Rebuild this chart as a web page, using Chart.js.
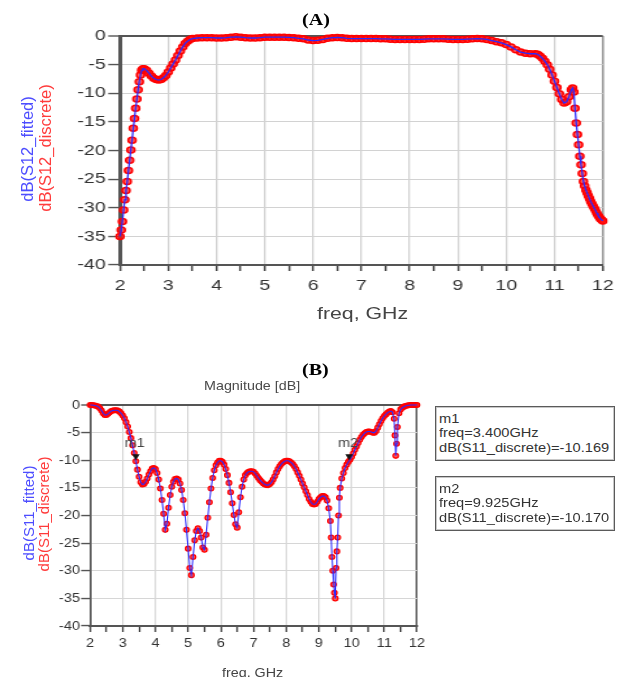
<!DOCTYPE html>
<html><head><meta charset="utf-8">
<script src="https://cdn.jsdelivr.net/npm/chart.js@4.4.1/dist/chart.umd.min.js"></script>
<style>
html,body{margin:0;padding:0;background:#fff;width:621px;height:677px;overflow:hidden;position:relative;font-family:"Liberation Sans",Arial,sans-serif;}
.wrap{position:absolute;left:0;transform-origin:0 0;}
.t{position:absolute;white-space:nowrap;line-height:1;transform-origin:0 0;}
.rot{position:absolute;white-space:nowrap;line-height:1;transform:translate(-50%,-50%) rotate(-90deg);}
.box{position:absolute;border:1.5px solid #5a5a5a;box-shadow:inset 0 0 0 1px #c8c8c8;background:#fff;}
</style></head><body>

<div class="wrap" style="top:0;width:478px;height:330px;transform:scaleX(1.3)"><canvas id="ca"></canvas></div>
<div class="wrap" style="top:330px;width:555px;height:347px;transform:scaleX(1.12)"><canvas id="cb"></canvas></div>

<div class="t" style="left:302px;top:11px;font-family:'Liberation Serif','Times New Roman',serif;font-weight:bold;font-size:17px;transform:scaleX(1.18)">(A)</div>
<div class="t" style="left:302px;top:361px;font-family:'Liberation Serif','Times New Roman',serif;font-weight:bold;font-size:17px;transform:scaleX(1.18)">(B)</div>
<div class="t" style="left:204px;top:379px;font-size:13.5px;color:#4a4a4a;transform:scaleX(1.06)">Magnitude [dB]</div>
<div class="t" style="left:317px;top:305.5px;font-size:16px;color:#444;transform:scaleX(1.33)">freq, GHz</div>
<div class="t" style="left:222px;top:665.5px;font-size:13.5px;color:#444;transform:scaleX(1.06)">freq, GHz</div>

<div class="rot" style="left:26.5px;top:149px;font-size:16.5px;color:#4d4dff">dB(S12_fitted)</div>
<div class="rot" style="left:44.5px;top:148px;font-size:16.5px;color:#ff3b3b">dB(S12_discrete)</div>
<div class="rot" style="left:27.5px;top:513px;font-size:15px;color:#4d4dff">dB(S11_fitted)</div>
<div class="rot" style="left:42.5px;top:514px;font-size:15px;color:#ff3b3b">dB(S11_discrete)</div>

<div id="legendBoxes"></div>

<script>
// ---------- Chart (A): S12 ----------
const freqA = [
  2.000,2.025,2.050,2.075,2.100,2.125,2.150,2.175,2.200,2.225,2.250,2.275,2.300,2.325,2.350,2.375,2.400,2.425,2.450,2.475,2.500,
  2.55,2.60,2.65,2.70,2.75,2.80,2.85,2.90,2.95,3.00,3.05,3.10,3.15,3.20,3.25,3.30,3.35,3.40,3.45,3.50,
  3.6,3.7,3.8,3.9,4.0,4.1,4.2,4.3,4.4,4.5,
  4.6,4.7,4.8,4.9,5.0,5.1,5.2,5.3,5.4,5.5,
  5.6,5.7,5.8,5.9,6.0,6.1,6.2,6.3,6.4,6.5,
  6.6,6.7,6.8,6.9,7.0,7.1,7.2,7.3,7.4,7.5,
  7.6,7.7,7.8,7.9,8.0,8.1,8.2,8.3,8.4,8.5,
  8.6,8.7,8.8,8.9,9.0,9.1,9.2,9.3,9.4,9.5,
  9.6,9.7,9.8,9.9,10.0,
  10.1,10.2,10.3,10.4,10.5,10.6,
  10.65,10.70,10.75,10.80,10.85,10.90,10.95,11.00,11.05,11.10,11.15,11.20,11.25,11.30,11.35,
  11.375,11.400,11.425,11.450,11.475,11.500,11.525,11.550,11.575,11.600,11.625,11.650,11.675,
  11.700,11.725,11.750,11.775,11.800,11.825,11.850,11.875,11.900,11.925,11.950,11.975,12.000
];
const s12Discrete = [
  -35.0,-33.9,-32.4,-30.4,-28.6,-27.0,-25.4,-23.5,-21.7,-19.9,-18.2,-16.1,-14.4,-12.6,-11.0,-9.4,-8.0,-6.8,-6.0,-5.7,-5.7,
  -6.0,-6.5,-7.0,-7.4,-7.6,-7.7,-7.6,-7.3,-6.9,-6.3,-5.6,-4.9,-4.2,-3.4,-2.6,-1.9,-1.3,-0.9,-0.6,-0.45,
  -0.35,-0.3,-0.3,-0.3,-0.35,-0.35,-0.3,-0.2,-0.15,-0.2,
  -0.3,-0.35,-0.35,-0.3,-0.2,-0.2,-0.2,-0.2,-0.2,-0.25,
  -0.3,-0.4,-0.5,-0.7,-0.8,-0.75,-0.6,-0.4,-0.3,-0.25,
  -0.3,-0.4,-0.45,-0.45,-0.45,-0.45,-0.45,-0.45,-0.5,-0.5,
  -0.55,-0.6,-0.6,-0.6,-0.6,-0.6,-0.6,-0.55,-0.5,-0.5,
  -0.5,-0.5,-0.55,-0.6,-0.6,-0.6,-0.55,-0.5,-0.45,-0.5,
  -0.6,-0.8,-1.0,-1.2,-1.5,
  -1.9,-2.4,-2.8,-3.0,-3.1,-3.1,
  -3.2,-3.5,-3.9,-4.4,-5.0,-5.8,-6.8,-7.9,-9.0,-10.1,-11.1,-11.7,-11.5,-10.6,-9.4,
  -9.1,-9.8,-12.6,-15.2,-17.2,-19.0,-21.0,-22.5,-24.0,-25.4,-26.2,-26.9,-27.4,
  -27.9,-28.4,-28.9,-29.3,-29.7,-30.1,-30.5,-30.9,-31.3,-31.6,-31.9,-32.1,-32.3
];
// fitted model follows the discrete samples
const s12Fitted = s12Discrete;

// ---------- Chart (B): S11 ----------
const freqB = [
  2.00,2.05,2.10,2.15,2.20,2.25,2.30,2.35,2.40,2.45,
  2.50,2.55,2.60,2.65,2.70,2.75,2.80,2.85,2.90,2.95,
  3.00,3.05,3.10,3.15,3.20,3.25,3.30,3.35,3.40,3.45,
  3.50,3.55,3.60,3.65,3.70,3.75,3.80,3.85,3.90,3.95,
  4.00,4.05,4.10,4.15,4.20,4.25,4.30,4.35,4.40,4.45,
  4.50,4.55,4.60,4.65,4.70,4.75,4.80,4.85,4.90,4.95,
  5.00,5.05,5.10,5.15,5.20,5.25,5.30,5.35,5.40,5.45,
  5.50,5.55,5.60,5.65,5.70,5.75,5.80,5.85,5.90,5.95,
  6.00,6.05,6.10,6.15,6.20,6.25,6.30,6.35,6.40,6.45,
  6.50,6.55,6.60,6.65,6.70,6.75,6.80,6.85,6.90,6.95,
  7.00,7.05,7.10,7.15,7.20,7.25,7.30,7.35,7.40,7.45,
  7.50,7.55,7.60,7.65,7.70,7.75,7.80,7.85,7.90,7.95,
  8.00,8.05,8.10,8.15,8.20,8.25,8.30,8.35,8.40,8.45,
  8.50,8.55,8.60,8.65,8.70,8.75,8.80,8.85,8.90,8.95,
  9.00,9.05,9.10,9.15,9.20,9.25,9.30,9.35,
  9.375,9.400,9.425,9.450,9.475,9.500,9.525,9.550,9.575,9.600,9.625,
  9.65,9.70,9.75,9.80,9.85,9.90,9.95,
  10.00,10.05,10.10,10.15,10.20,10.25,10.30,10.35,10.40,10.45,
  10.50,10.55,10.60,10.65,10.70,10.75,10.80,10.85,10.90,10.95,
  11.00,11.05,11.10,11.15,11.20,11.25,11.30,11.325,11.35,11.375,11.40,11.45,
  11.50,11.55,11.60,11.65,11.70,11.75,11.80,11.85,11.90,11.95,12.00
];
const s11Discrete = [
  0.0,0.0,-0.05,-0.1,-0.2,-0.3,-0.6,-1.0,-1.5,-1.8,
  -1.8,-1.6,-1.3,-1.1,-1.0,-0.95,-0.95,-1.0,-1.2,-1.5,
  -1.9,-2.4,-3.1,-3.9,-4.9,-6.0,-7.3,-8.7,-10.17,-11.7,
  -13.0,-14.0,-14.4,-14.3,-13.9,-13.3,-12.6,-12.0,-11.5,-11.4,
  -11.6,-12.3,-13.5,-15.1,-17.2,-19.7,-22.6,-21.5,-18.6,-16.3,
  -14.8,-13.9,-13.4,-13.3,-13.5,-14.2,-15.4,-17.2,-19.6,-22.6,
  -26.0,-29.5,-30.8,-27.5,-24.5,-22.8,-22.3,-22.8,-24.0,-25.8,
  -26.2,-23.5,-20.4,-17.6,-15.1,-13.2,-11.8,-10.9,-10.4,-10.1,
  -10.1,-10.3,-10.8,-11.6,-12.7,-14.1,-15.8,-17.8,-19.9,-21.6,
  -22.2,-19.4,-16.7,-14.8,-13.5,-12.7,-12.3,-12.1,-12.0,-12.0,
  -12.1,-12.4,-12.8,-13.2,-13.6,-13.9,-14.2,-14.4,-14.5,-14.5,
  -14.3,-14.0,-13.5,-12.9,-12.2,-11.6,-11.1,-10.7,-10.4,-10.2,
  -10.1,-10.1,-10.2,-10.4,-10.7,-11.1,-11.6,-12.2,-12.8,-13.5,
  -14.2,-14.9,-15.6,-16.3,-17.0,-17.5,-17.9,-18.0,-17.9,-17.5,
  -17.0,-16.7,-16.5,-16.5,-16.7,-17.3,-18.7,-21.0,
  -24.0,-27.5,-30.0,-32.5,-34.0,-35.0,-29.5,-26.5,-24.0,-20.0,-16.8,
  -15.0,-13.3,-12.3,-11.4,-10.8,-10.3,-9.9,
  -9.4,-8.8,-8.1,-7.5,-6.9,-6.3,-5.8,-5.4,-5.1,-4.9,
  -4.8,-4.8,-4.9,-5.0,-5.0,-4.7,-4.1,-3.5,-2.9,-2.4,
  -2.0,-1.7,-1.4,-1.2,-1.1,-1.3,-2.5,-5.5,-9.2,-7.0,-4.0,-1.5,
  -0.8,-0.5,-0.3,-0.2,-0.1,-0.05,0.0,0.0,0.0,0.0,0.0
];
const s11Fitted = s11Discrete;

// markers on chart (B)
const markerNames  = ['m1', 'm2'];
const markerFreqs  = [3.400, 9.925];
const markerValues = [-10.169, -10.170];

// axis ticks
const xMin = 2, xMax = 12, xStep = 0.5;
const yMin = -40, yMax = 0, yStep = 5;

const FONT = '"Liberation Sans", Arial, sans-serif';
function pts(xs, ys){ return xs.map((x,i)=>({x:x, y:ys[i]})); }

const markerPlugin = {
  id: 'markerPlugin',
  afterDatasetsDraw(chart, args, opts) {
    if (!opts || !opts.show) return;
    const ctx = chart.ctx, xs = chart.scales.x, ys = chart.scales.y;
    markerNames.forEach((name, i) => {
      const px = xs.getPixelForValue(markerFreqs[i]);
      const py = ys.getPixelForValue(markerValues[i]);
      ctx.save();
      ctx.fillStyle = '#111';
      ctx.beginPath();
      ctx.moveTo(px, py - 1);
      ctx.lineTo(px - 3.4, py - 7);
      ctx.lineTo(px + 3.4, py - 7);
      ctx.closePath();
      ctx.fill();
      ctx.font = '13px ' + FONT;
      ctx.fillStyle = '#444';
      ctx.textAlign = 'center';
      ctx.textBaseline = 'alphabetic';
      ctx.fillText(name, px - 1, py - 14);
      ctx.restore();
    });
  }
};

function makeChart(id, cfg) {
  const isInt = v => Math.abs(v - Math.round(v)) < 1e-6;
  return new Chart(document.getElementById(id), {
    type: 'scatter',
    data: { datasets: [
      { label: cfg.fitLabel, data: pts(cfg.fx, cfg.fy), showLine: true, borderColor: '#2a2aff',
        borderWidth: cfg.lineW, pointRadius: 0, pointHoverRadius: 0, clip: 4 },
      { label: cfg.discLabel, data: pts(cfg.fx, cfg.dy), showLine: false, pointStyle: 'circle',
        pointRadius: cfg.ptR, pointBorderWidth: cfg.ptBW, borderColor: '#ff0000',
        backgroundColor: 'rgba(255,20,20,0.7)', clip: 4 }
    ]},
    plugins: [markerPlugin],
    options: {
      responsive: true, maintainAspectRatio: false, animation: false, devicePixelRatio: 1, events: [],
      layout: { padding: cfg.pad },
      plugins: { legend: { display: false }, tooltip: { enabled: false }, markerPlugin: { show: cfg.markers } },
      scales: {
        x: {
          type: 'linear', min: xMin, max: xMax,
          ticks: { stepSize: xStep, autoSkip: false, maxRotation: 0, minRotation: 0, padding: cfg.xPad,
                   color: '#333', font: { family: FONT, size: cfg.fs },
                   callback: v => isInt(v) ? String(Math.round(v)) : '' },
          grid: { color: c => (c.tick && isInt(c.tick.value)) ? (Math.abs(c.tick.value - xMax) < 1e-6 ? cfg.rightC : cfg.gridC) : 'rgba(0,0,0,0)',
                  lineWidth: c => (c.tick && Math.abs(c.tick.value - xMax) < 1e-6) ? 1.6 : 1.3,
                  tickLength: 6, tickColor: '#444', tickWidth: 1.5 },
          border: { color: '#555', width: 2 },
          afterFit: s => { s.height = cfg.xH; }
        },
        y: {
          type: 'linear', min: yMin, max: yMax,
          ticks: { stepSize: yStep, padding: cfg.yPad, color: '#333', font: { family: FONT, size: cfg.fs } },
          grid: { color: c => (c.tick && c.tick.value === yMax) ? '#555' : cfg.gridC,
                  lineWidth: c => (c.tick && c.tick.value === yMax) ? 2 : 1.1,
                  tickLength: cfg.yTick, tickColor: '#555', tickWidth: 1.4 },
          border: { color: '#555', width: cfg.yBorder },
          afterFit: s => { s.width = cfg.yW; }
        }
      }
    }
  });
}

makeChart('ca', {
  fx: freqA, fy: s12Fitted, dy: s12Discrete, fitLabel: 'dB(S12_fitted)', discLabel: 'dB(S12_discrete)',
  pad: { top: 36, right: 12.6, left: 0, bottom: 0 }, xH: 65, yW: 92.3,
  fs: 15, xPad: 6, yPad: 2, yTick: 9, yBorder: 3, gridC: '#d2d2d2', rightC: '#9a9a9a',
  lineW: 1.3, ptR: 3.0, ptBW: 1.5, markers: false
});
makeChart('cb', {
  fx: freqB, fy: s11Fitted, dy: s11Discrete, fitLabel: 'dB(S11_fitted)', discLabel: 'dB(S11_discrete)',
  pad: { top: 75, right: 182.7, left: 0, bottom: 0 }, xH: 51, yW: 80.4,
  fs: 13, xPad: 4, yPad: 1, yTick: 8, yBorder: 1.8, gridC: '#d6d6d6', rightC: '#555',
  lineW: 1.1, ptR: 2.4, ptBW: 1.3, markers: true
});

// marker readout boxes
const boxTops = [406, 476];
const lb = document.getElementById('legendBoxes');
markerNames.forEach((name, i) => {
  const b = document.createElement('div');
  b.className = 'box';
  b.style.cssText = `left:435px;top:${boxTops[i]}px;width:178px;height:53px;`;
  lb.appendChild(b);
  const lines = [name, `freq=${markerFreqs[i].toFixed(3)}GHz`, `dB(S11_discrete)=${markerValues[i].toFixed(3)}`];
  lines.forEach((txt, k) => {
    const d = document.createElement('div');
    d.className = 't';
    d.style.cssText = `left:439px;top:${boxTops[i] + 7 + k * 14.4}px;font-size:12px;color:#333;transform:scaleX(1.22);`;
    d.textContent = txt;
    lb.appendChild(d);
  });
});
</script>
</body></html>
